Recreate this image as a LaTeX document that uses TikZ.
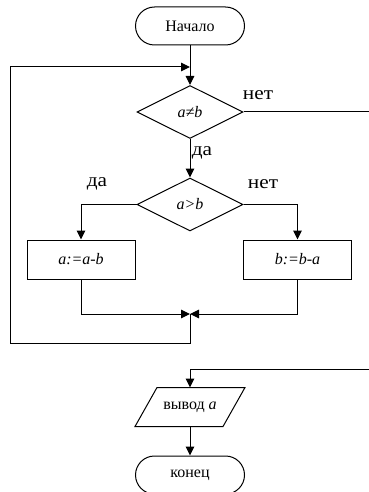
\documentclass[tikz,border=0pt]{standalone}
\usepackage{fontspec}
\setmainfont{Liberation Serif}
\newfontfamily\branchfont[FakeStretch=1.12]{Liberation Serif}
\usetikzlibrary{arrows.meta,shapes.geometric}

\begin{document}
\begin{tikzpicture}[x=1pt,y=-1pt,
  line width=1pt,
  every node/.style={inner sep=0pt, font=\fontsize{16}{18}\selectfont},
  terminal/.style={draw, rounded corners=19pt, minimum width=109pt, minimum height=38pt},
  cond/.style={draw, diamond, minimum width=106pt, minimum height=53pt},
  proc/.style={draw, rectangle, minimum width=108pt, minimum height=39pt},
  lbl/.style={font=\branchfont\fontsize{19}{21}\selectfont},
  flow/.style={-{Triangle[length=9pt,width=8.5pt]}}
]
  \clip (0,0) rectangle (369,492);
  \useasboundingbox (0,0) rectangle (369,492);

  % blocks
  \node[terminal] (start) at (190,26) {Начало};
  \node[cond] (ne) at (190,112) {\itshape a≠b};
  \node[cond] (gt) at (190,204.5) {\itshape a>b};
  \node[proc] (suba) at (81,259.5) {\itshape a:=a-b};
  \node[proc] (subb) at (297.5,259.5) {\itshape b:=b-a};
  \node[minimum width=87pt, minimum height=38pt] (out) at (190,407) {вывод \itshape a};
  \draw ([xshift=11pt]out.north west) -- ([xshift=11pt]out.north east)
     -- ([xshift=-11pt]out.south east) -- ([xshift=-11pt]out.south west) -- cycle;
  \node[terminal] (stop) at (190,475) {конец};

  % helper points
  \coordinate (join) at (190,314);
  \coordinate (back) at (190,67);
  \coordinate (exit) at (369,112);
  \coordinate (enter) at (369,369);

  % connectors
  \draw[flow] (start) -- (ne);
  \draw (ne.east) -- (exit);
  \draw[flow] (ne) -- (gt);
  \draw[flow] (gt.west) -| (suba.north);
  \draw[flow] (gt.east) -| (subb.north);
  \draw[flow] (suba.south) |- (join);
  \draw[flow] (subb.south) |- (join);
  \draw[flow] (join) -- (190,343) -| (10,67) -- (back);
  \draw[flow] (enter) -| (out.north);
  \draw[flow] (out) -- (stop);

  % branch labels
  \node[lbl] at (258,95) {нет};
  \node[lbl] at (202,153) {да};
  \node[lbl] at (97,184) {да};
  \node[lbl] at (263,184) {нет};
\end{tikzpicture}
\end{document}
